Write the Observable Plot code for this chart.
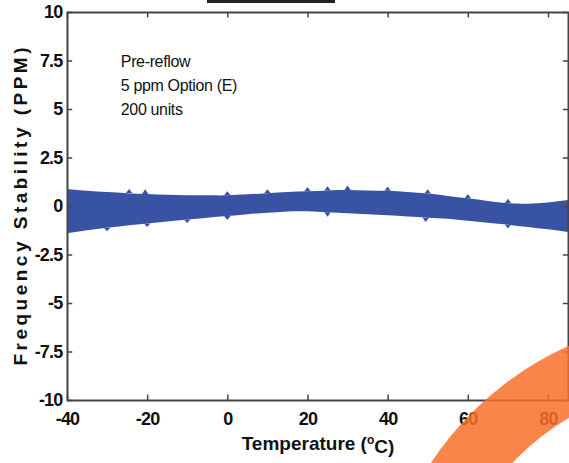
<!DOCTYPE html>
<html>
<head>
<meta charset="utf-8">
<script src="https://cdn.jsdelivr.net/npm/d3@7"></script>
<script src="https://cdn.jsdelivr.net/npm/@observablehq/plot@0.6"></script>
<style>
  html, body { margin: 0; padding: 0; background: white; }
  #wrap { position: relative; width: 569px; height: 463px; overflow: hidden; background: white; }
  #bar { position: absolute; left: 207px; top: 0; width: 128px; height: 3px; background: #222; }
  #arc { position: absolute; left: 378px; top: 318px; width: 644px; height: 644px; box-sizing: border-box;
         border: 64px solid rgba(249,112,42,0.85); border-radius: 50%; }
</style>
</head>
<body>
<div id="wrap"><div id="bar"></div></div>
<script>
// ---- data ----
const temps  = [-40, -35, -30, -25, -20, -15, -10, -5, 0, 5, 10, 15, 20, 25, 30, 35, 40, 45, 50, 55, 60, 65, 70, 75, 80, 85];
const upper  = [0.88, 0.78, 0.72, 0.66, 0.62, 0.58, 0.55, 0.55, 0.55, 0.60, 0.66, 0.72, 0.76, 0.80, 0.82, 0.80, 0.78, 0.72, 0.64, 0.52, 0.40, 0.26, 0.14, 0.12, 0.18, 0.31];
const lower  = [-1.40, -1.25, -1.12, -1.00, -0.90, -0.80, -0.70, -0.60, -0.52, -0.42, -0.35, -0.28, -0.27, -0.32, -0.37, -0.43, -0.48, -0.54, -0.60, -0.66, -0.76, -0.86, -0.96, -1.08, -1.20, -1.34];

// small spikes on the envelopes: temperature, envelope value, tip value
const spikeT    = [-24.5, -20.5, 0, 10, 20, 25, 30, 40, 50, 60, 70, -30, -20, -10, 0, 25, 49.5, 70];
const spikeBase = [0.67, 0.62, 0.55, 0.66, 0.76, 0.80, 0.82, 0.78, 0.64, 0.40, 0.14, -1.12, -0.90, -0.70, -0.52, -0.32, -0.60, -0.96];
const spikeTip  = [0.88, 0.86, 0.76, 0.86, 0.98, 1.02, 1.06, 1.00, 0.86, 0.62, 0.38, -1.30, -1.08, -0.88, -0.72, -0.56, -0.82, -1.16];

const xTicks = [-40, -20, 0, 20, 40, 60, 80];
const xTickLabels = ["-40", "-20", "0", "20", "40", "60", "80"];
const yTicks = [-10, -7.5, -5, -2.5, 0, 2.5, 5, 7.5, 10];
const yTickLabels = ["-10", "-7.5", "-5", "-2.5", "0", "2.5", "5", "7.5", "10"];

const notes = ["Pre-reflow", "5 ppm Option (E)", "200 units"];
const xLabel = "Temperature (oC)";
const yLabel = "Frequency Stability (PPM)";

// ---- tables ----
const band = temps.map((t, i) => ({t, lo: lower[i], hi: upper[i]}));
const spikes = [];
spikeT.forEach((t, i) => {
  spikes.push({k: i, t: t - 0.8, v: spikeBase[i], b: spikeBase[i]});
  spikes.push({k: i, t: t, v: spikeTip[i], b: spikeBase[i]});
  spikes.push({k: i, t: t + 0.8, v: spikeBase[i], b: spikeBase[i]});
});
const blue = "#3953a4";
const axisColor = "#444";
const xFmt = d => xTickLabels[xTicks.indexOf(d)];
const yFmt = d => yTickLabels[yTicks.indexOf(d)];

const chart = Plot.plot({
  width: 569,
  height: 463,
  marginLeft: 67,
  marginRight: 1,
  marginTop: 12,
  marginBottom: 63,
  style: {fontFamily: "Liberation Sans, Arial, sans-serif", background: "white", color: "#111"},
  x: {domain: [-40, 85]},
  y: {domain: [-10, 10]},
  marks: [
    Plot.areaY(band, {x: "t", y1: "lo", y2: "hi", fill: blue, curve: "natural"}),
    Plot.areaY(spikes, {x: "t", y1: "b", y2: "v", z: "k", fill: blue}),
    Plot.frame({stroke: axisColor, strokeWidth: 2}),
    // inward ticks
    Plot.ruleX(xTicks, {y1: -10, y2: -9.72, stroke: axisColor, strokeWidth: 1.5}),
    Plot.ruleX(xTicks, {y1: 10, y2: 9.72, stroke: axisColor, strokeWidth: 1.5}),
    Plot.ruleY(yTicks, {x1: -40, x2: -38.7, stroke: axisColor, strokeWidth: 1.5}),
    Plot.ruleY(yTicks, {x1: 85, x2: 83.7, stroke: axisColor, strokeWidth: 1.5}),
    Plot.axisX({ticks: xTicks, tickFormat: xFmt, tickSize: 0, tickPadding: 12, label: null,
                fontSize: 18, fontWeight: "bold", fill: "#111"}),
    Plot.axisY({ticks: yTicks, tickFormat: yFmt, tickSize: 0, tickPadding: 5, label: null,
                fontSize: 18, fontWeight: "bold", fill: "#111"}),
    Plot.text([notes.join("\n")], {x: -26.7, y: 8.05, text: d => d, textAnchor: "start", lineAnchor: "top",
                lineHeight: 1.5, fontSize: 16, fill: "#111"}),
    Plot.text([xLabel], {frameAnchor: "bottom", dy: 43, text: d => d, lineAnchor: "middle",
                fontSize: 19, fontWeight: "bold", fill: "#111"}),
    Plot.text([yLabel], {frameAnchor: "left", dx: -47, rotate: -90, text: d => d, textAnchor: "middle",
                lineAnchor: "middle", fontWeight: "bold", fill: "#111"})
  ]
});

const svg = d3.select(chart);
svg.selectAll("text").filter(function() { return this.textContent === xLabel; })
  .each(function() {
    const t = d3.select(this);
    t.text(null);
    t.append("tspan").text("Temperature (");
    t.append("tspan").attr("font-size", 12).attr("dy", "-0.45em").text("o");
    t.append("tspan").attr("dy", "0.45em").text("C)");
  });
svg.selectAll("text").filter(function() { return this.textContent === yLabel; })
  .style("font-size", "19px")
  .attr("textLength", 318).attr("lengthAdjust", "spacing");
svg.selectAll("[aria-label$='tick label'] text").attr("letter-spacing", "-0.8px");
svg.selectAll("text").filter(function() { return notes.some(n => this.textContent.includes(n)); })
  .attr("letter-spacing", "-0.35px");

const wrap = document.getElementById("wrap");
wrap.insertBefore(chart, wrap.firstChild);
const arc = document.createElement("div");
arc.id = "arc";
wrap.appendChild(arc);
</script>
</body>
</html>
